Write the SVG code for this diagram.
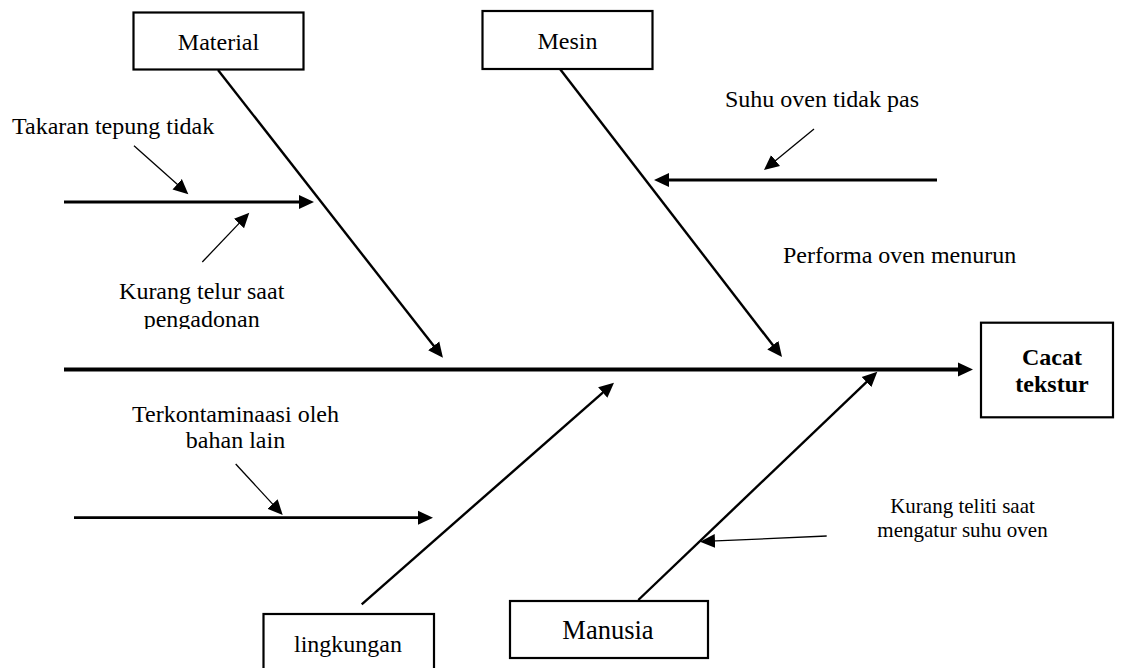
<svg xmlns="http://www.w3.org/2000/svg" width="1129" height="668" viewBox="0 0 1129 668">
<style>
  .box{fill:#fff;stroke:#000;stroke-width:2.2}
  .t{font-family:"Liberation Serif","Times New Roman",serif;font-size:24px;fill:#000}
  .c{text-anchor:middle}
  .b{font-weight:bold}
  .spine{stroke:#000;stroke-width:3.8;fill:none}
  .bone{stroke:#000;stroke-width:2.4;fill:none}
  .cause{stroke:#000;stroke-width:2.8;fill:none}
  .thin{stroke:#000;stroke-width:1.3;fill:none}
</style>
<defs>
  <marker id="ah" markerUnits="userSpaceOnUse" markerWidth="16" markerHeight="16" viewBox="0 0 16 16" refX="5" refY="8" orient="auto">
    <path d="M0,1 L15,8 L0,15 Z" fill="#000"/>
  </marker>
  <clipPath id="clipTelur"><rect x="0" y="270" width="400" height="59"/></clipPath>
</defs>
<rect width="1129" height="668" fill="#fff"/>

<g id="connectors">
  <line class="spine" x1="64" y1="369.5" x2="963" y2="369.5" marker-end="url(#ah)"/>
  <line class="bone" x1="218" y1="70" x2="436.8" y2="349.8" marker-end="url(#ah)"/>
  <line class="bone" x1="560" y1="69" x2="775.9" y2="349.1" marker-end="url(#ah)"/>
  <line class="bone" x1="361.7" y1="604.3" x2="606.5" y2="389.3" marker-end="url(#ah)"/>
  <line class="bone" x1="638.3" y1="600" x2="870.1" y2="378.6" marker-end="url(#ah)"/>
  <line class="cause" x1="64" y1="202" x2="304" y2="202" marker-end="url(#ah)"/>
  <line class="cause" x1="937" y1="180" x2="664" y2="180" marker-end="url(#ah)"/>
  <line class="cause" x1="74" y1="517.7" x2="423" y2="517.7" marker-end="url(#ah)"/>
  <line class="thin" x1="134" y1="145.7" x2="180.9" y2="187.6" marker-end="url(#ah)"/>
  <line class="thin" x1="202.3" y1="262" x2="242.4" y2="219.9" marker-end="url(#ah)"/>
  <line class="thin" x1="814" y1="129" x2="771.7" y2="163.7" marker-end="url(#ah)"/>
  <line class="thin" x1="235.7" y1="464" x2="275.9" y2="507.6" marker-end="url(#ah)"/>
  <line class="thin" x1="826.7" y1="536" x2="710" y2="541.2" marker-end="url(#ah)"/>
</g>

<g id="material">
  <rect class="box" x="133.5" y="12.5" width="170" height="57"/>
  <text class="t c" x="218.5" y="50">Material</text>
</g>
<g id="mesin">
  <rect class="box" x="482.5" y="11" width="170" height="58"/>
  <text class="t c" x="567.5" y="49">Mesin</text>
</g>
<g id="lingkungan">
  <rect class="box" x="263.5" y="614" width="170.5" height="60"/>
  <text class="t c" x="348" y="651.7">lingkungan</text>
</g>
<g id="manusia">
  <rect class="box" x="510" y="601" width="198" height="57"/>
  <text class="t c" x="608" y="639.3" style="font-size:26.5px">Manusia</text>
</g>
<g id="cacat-tekstur">
  <rect class="box" x="981" y="322.7" width="132" height="94.6"/>
  <text class="t c b" x="1052" y="365">Cacat</text>
  <text class="t c b" x="1052" y="392">tekstur</text>
</g>

<g id="cause-takaran">
  <text class="t" x="12" y="134">Takaran tepung tidak</text>
</g>
<g id="cause-telur">
  <text class="t c" x="201.7" y="299.3" clip-path="url(#clipTelur)">Kurang telur saat</text>
  <text class="t c" x="201.7" y="326.7" clip-path="url(#clipTelur)">pengadonan</text>
</g>
<g id="cause-suhu">
  <text class="t" x="725" y="107">Suhu oven tidak pas</text>
</g>
<g id="cause-performa">
  <text class="t" x="783" y="263.3">Performa oven menurun</text>
</g>
<g id="cause-kontaminasi">
  <text class="t c" x="235.5" y="421.7">Terkontaminaasi oleh</text>
  <text class="t c" x="235.5" y="448.3">bahan lain</text>
</g>
<g id="cause-teliti">
  <text class="t c" x="962.5" y="512.7" style="font-size:21px">Kurang teliti saat</text>
  <text class="t c" x="962.5" y="536.7" style="font-size:21px">mengatur suhu oven</text>
</g>
</svg>
